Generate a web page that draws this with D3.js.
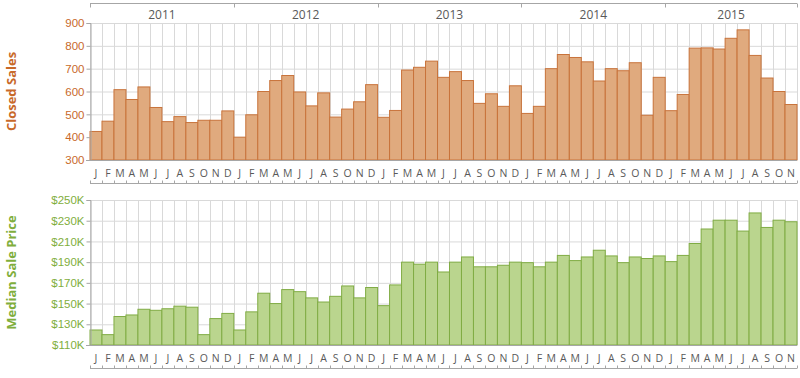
<!DOCTYPE html>
<html lang="en">
  <head>
    <meta charset="utf-8">
    <title>Closed Sales and Median Sale Price</title>
    <style>
      body { margin: 0; background: #fff; }
      svg { display: block; font-family: "Open Sans", "Noto Sans", sans-serif; }
    </style>
  </head>
  <body>
    <svg></svg>
    <script src="https://d3js.org/d3.v7.min.js"></script>
    <script type="text/javascript">
      var years = ["2011", "2012", "2013", "2014", "2015"];
      var monthLetters = ["J","F","M","A","M","J","J","A","S","O","N","D"];

      var closedSales = [
        425, 470, 608, 565, 620, 530, 468, 490, 464, 474, 474, 515,
        400, 498, 600, 648, 670, 598, 537, 594, 488, 523, 555, 630,
        487, 517, 694, 706, 733, 662, 687, 648, 548, 590, 535, 625,
        504, 535, 700, 762, 749, 730, 646, 700, 691, 726, 496, 662,
        516, 587, 790, 791, 786, 833, 870, 758, 659, 600, 543
      ];
      var medianPrice = [
        124.5, 120, 137.5, 139, 144.5, 143.5, 145, 147.5, 146.5, 120, 135.5, 140.5,
        124.5, 142, 160, 150, 163.5, 161.5, 155.5, 151.5, 157, 167, 155.5, 165.5,
        148, 168, 190, 188, 190, 180.5, 190, 195, 185.5, 185.5, 187, 190,
        189.5, 185.5, 190, 196.5, 191.5, 195, 201.5, 196, 189.5, 195, 193.5, 196,
        190.5, 196.5, 208, 222, 230.5, 230.5, 220, 237.5, 223.5, 230.5, 229
      ];
      var salesTicks = [300, 400, 500, 600, 700, 800, 900];
      var priceTicks = [110, 130, 150, 170, 190, 210, 230, 250];

      var width = 800, height = 378;
      var svg = d3.select("svg").attr("width", width).attr("height", height);

      var n = closedSales.length;
      var idx = d3.range(n);
      var x = d3.scaleBand().domain(idx).range([90, 797]).paddingInner(0).paddingOuter(0);
      var bw = x.bandwidth();

      function panel(opts) {
        var y = d3.scaleLinear().domain(opts.domain).range([opts.bottom, opts.top]);
        var g = svg.append("g");

        // horizontal grid
        g.selectAll(".hg").data(opts.ticks).enter().append("line")
          .attr("x1", 90).attr("x2", 797)
          .attr("y1", function(d){ return y(d) + 0.5; })
          .attr("y2", function(d){ return y(d) + 0.5; })
          .style("stroke", "#d9d9d9").style("stroke-width", 1);
        // vertical grid
        g.selectAll(".vg").data(d3.range(n + 1)).enter().append("line")
          .attr("x1", function(i){ return Math.round(90 + i * bw) + 0.5; })
          .attr("x2", function(i){ return Math.round(90 + i * bw) + 0.5; })
          .attr("y1", opts.top).attr("y2", opts.bottom)
          .style("stroke", "#d9d9d9").style("stroke-width", 1);

        // bars
        g.selectAll("rect").data(opts.values).enter().append("rect")
          .attr("x", function(d, i){ return x(i); })
          .attr("width", bw)
          .attr("y", function(d){ return y(d); })
          .attr("height", function(d){ return opts.bottom - y(d); })
          .style("fill", opts.fill)
          .style("stroke", opts.stroke)
          .style("stroke-width", 1);

        // y axis
        var axis = d3.axisLeft(y).tickValues(opts.ticks).tickSize(4).tickFormat(opts.format);
        var ag = g.append("g").attr("transform", "translate(90.5,0)").call(axis);
        ag.select(".domain").style("stroke", "#a6a6a6");
        ag.selectAll(".tick line").style("stroke", "#a6a6a6");
        ag.selectAll("text").style("fill", opts.labelColor).style("font-size", "11.5px")
          .attr("x", -6);

        // x baseline
        g.append("line").attr("x1", 86).attr("x2", 797)
          .attr("y1", opts.bottom + 0.5).attr("y2", opts.bottom + 0.5)
          .style("stroke", "#a6a6a6");

        // month labels
        g.selectAll(".ml").data(idx).enter().append("text")
          .attr("x", function(i){ return x(i) + bw / 2; })
          .attr("y", opts.bottom + 17)
          .attr("text-anchor", "middle")
          .style("font-size", "10.5px")
          .style("fill", "#595959")
          .text(function(i){ return monthLetters[i % 12]; });

        // bracket under month labels
        var by = opts.bottom + 23.5;
        g.append("line").attr("x1", 90).attr("x2", 797).attr("y1", by).attr("y2", by)
          .style("stroke", "#a6a6a6");
        g.selectAll(".bt").data(d3.range(n + 1)).enter().append("line")
          .attr("x1", function(i){ return Math.round(90 + i * bw) + 0.5; })
          .attr("x2", function(i){ return Math.round(90 + i * bw) + 0.5; })
          .attr("y1", by - 3).attr("y2", by)
          .style("stroke", "#a6a6a6");

        // rotated title
        g.append("text")
          .attr("transform", "translate(16," + ((opts.top + opts.bottom) / 2) + ") rotate(-90)")
          .attr("text-anchor", "middle")
          .style("font-size", "13px")
          .style("font-weight", "bold")
          .style("fill", opts.labelColor)
          .text(opts.title);
        return y;
      }

      panel({
        values: closedSales, domain: [300, 900], ticks: salesTicks,
        top: 23, bottom: 160, fill: "#e0aa7e", stroke: "#c8733b",
        labelColor: "#c8692a", title: "Closed Sales",
        format: function(d){ return d; }
      });
      panel({
        values: medianPrice, domain: [110, 250], ticks: priceTicks,
        top: 200, bottom: 345, fill: "#bad58e", stroke: "#80ac44",
        labelColor: "#7fae3c", title: "Median Sale Price",
        format: function(d){ return "$" + d + "K"; }
      });

      // year bracket on top
      var yy = 3.5;
      svg.append("line").attr("x1", 90).attr("x2", 797).attr("y1", yy).attr("y2", yy)
        .style("stroke", "#a6a6a6");
      svg.selectAll(".yt").data(d3.range(years.length + 1)).enter().append("line")
        .attr("x1", function(i){ return Math.round(90 + Math.min(i * 12, n) * bw) + 0.5; })
        .attr("x2", function(i){ return Math.round(90 + Math.min(i * 12, n) * bw) + 0.5; })
        .attr("y1", yy).attr("y2", yy + 4)
        .style("stroke", "#a6a6a6");
      svg.selectAll(".yl").data(years).enter().append("text")
        .attr("x", function(d, i){ return 90 + (i * 12 + Math.min(12, n - i * 12) / 2) * bw; })
        .attr("y", 19)
        .attr("text-anchor", "middle")
        .style("font-size", "12px")
        .style("fill", "#595959")
        .text(function(d){ return d; });
    </script>
  </body>
</html>
